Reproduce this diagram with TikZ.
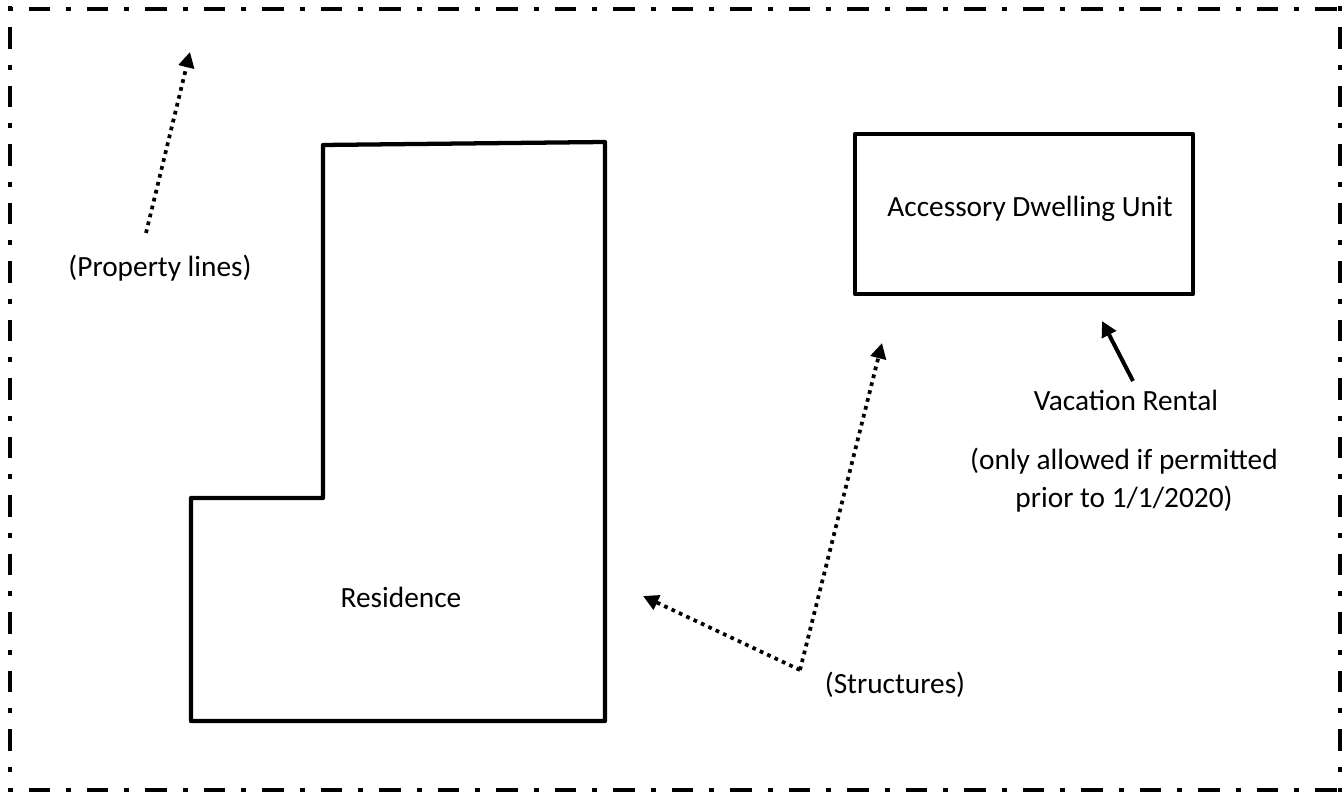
\documentclass[tikz,border=0pt]{standalone}
\usepackage{fontspec}
\setmainfont{Carlito}
\usetikzlibrary{arrows.meta}
\begin{document}
\begin{tikzpicture}[x=0.375pt,y=-0.375pt,
  plinestyle/.style={line width=1.7pt, dash pattern=on 1.875pt off 6pt on 8.06pt off 6pt},
  wall/.style={line width=1.6pt, line join=round},
  dotarrow/.style={line width=1.4pt, dash pattern=on 1.4pt off 1.65pt, -{Triangle[length=5.8pt,width=5.8pt]}},
  solidarrow/.style={line width=1.5pt, -{Triangle[length=5.8pt,width=5.8pt]}},
  lbl/.style={anchor=base, inner sep=0pt, font=\fontsize{11pt}{13.5pt}\selectfont}]
\useasboundingbox (0,0) rectangle (1344,793);
% property lines (border)
\draw[plinestyle] (7.5,9) -- (1342.5,9);
\draw[plinestyle] (10,6.5) -- (10,792.5);
\draw[plinestyle] (1340,6.5) -- (1340,792.5);
\draw[plinestyle] (7.5,790) -- (1342.5,790);
% residence
\draw[wall] (323,145) -- (605,142) -- (605,721) -- (191,721) -- (191,498) -- (323,498) -- cycle;
% accessory dwelling unit
\draw[wall] (855,134) rectangle (1193,294);
% labels
\node[lbl] (res) at (401,608) {Residence};
\node[lbl] (adu) at (1030,217) {Accessory Dwelling Unit};
\node[lbl] (prop) at (160,277) {(Property lines)};
\node[lbl] (struct) at (895,694) {(Structures)};
\node[lbl] (vac) at (1126,411) {Vacation Rental};
\node[lbl] (onlyA) at (1124,470) {(only allowed if permitted};
\node[lbl] (onlyB) at (1124,508) {prior to 1/1/2020)};
% connector points
\coordinate (propTail) at (146,233);
\coordinate (propTip) at (190,52);
\coordinate (sv) at (800,670);
\coordinate (sTipA) at (882,343);
\coordinate (sTipR) at (643,596);
\coordinate (vTail) at (1133,381);
\coordinate (vTip) at (1102,321);
% arrows
\draw[dotarrow] (propTail) -- (propTip);
\draw[dotarrow] (sv) -- (sTipA);
\draw[dotarrow] (sv) -- (sTipR);
\draw[solidarrow] (vTail) -- (vTip);
\end{tikzpicture}
\end{document}
